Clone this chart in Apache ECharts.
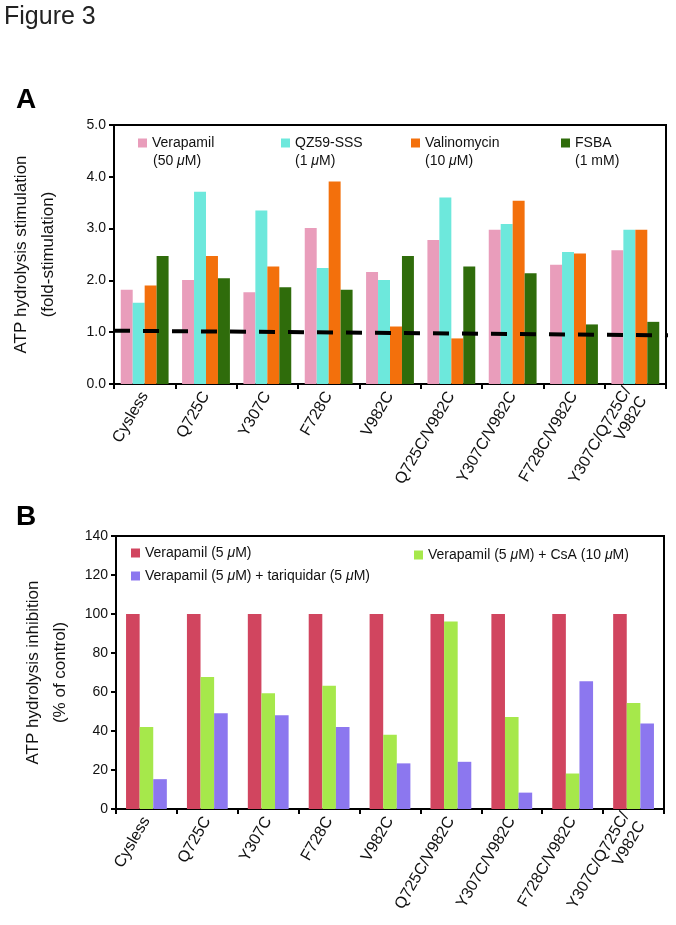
<!DOCTYPE html>
<html>
<head>
<meta charset="utf-8">
<script src="https://cdn.jsdelivr.net/npm/echarts@6/dist/echarts.min.js"></script>
<style>
html,body{margin:0;padding:0;background:#fff;}
#c{width:676px;height:925px;}
</style>
</head>
<body>
<div id="c"></div>
<script>
// ---------- data ----------
const categories = ['Cysless','Q725C','Y307C','F728C','V982C','Q725C/V982C','Y307C/V982C','F728C/V982C','Y307C/Q725C/\nV982C'];

// Panel A (fold-stimulation)
const verapamil50 = [1.82, 2.01, 1.77, 3.01, 2.16, 2.78, 2.98, 2.30, 2.58];
const qz59sss     = [1.57, 3.71, 3.35, 2.24, 2.01, 3.60, 3.09, 2.55, 2.98];
const valinomycin = [1.90, 2.47, 2.27, 3.91, 1.11, 0.88, 3.54, 2.52, 2.98];
const fsba        = [2.47, 2.04, 1.87, 1.82, 2.47, 2.27, 2.14, 1.15, 1.20];
const baselineX = [0, 1.007];
const baselineY = [1.03, 0.94];
const ticksA = [0, 1, 2, 3, 4, 5];

// Panel B (% of control)
const verapamil5 = [100, 100, 100, 100, 100, 100, 100, 100, 100];
const verCsA     = [42.1, 67.7, 59.4, 63.2, 38.1, 96.2, 47.2, 18.2, 54.3];
const verTariq   = [15.3, 49.1, 48.1, 42.1, 23.4, 24.2, 8.4, 65.5, 43.8];
const ticksB = [0, 20, 40, 60, 80, 100, 120, 140];

// ---------- styling ----------
const FONT = '"Liberation Sans", Arial, Helvetica, sans-serif';
const colA = ['#E99DBB', '#6DE8DC', '#F3700C', '#2F6C0B'];
const colB = ['#D1455F', '#A6E84B', '#8C77EF'];
const rich = {
  n: {fontFamily: FONT, fontSize: 14, color: '#111'},
  i: {fontFamily: FONT, fontSize: 14, color: '#111', fontStyle: 'italic'}
};
function muFmt(s){ return s.split('μ').map(p => p ? '{n|' + p + '}' : '').join('{i|μ}'); }

function legendAt(name, left, top){
  return {
    data: [name], left: left, top: top, orient: 'horizontal',
    itemWidth: 9, itemHeight: 9, itemGap: 5, padding: 0,
    icon: 'rect', selectedMode: false,
    formatter: muFmt,
    textStyle: {fontFamily: FONT, fontSize: 14, color: '#111', rich: rich}
  };
}
function label(text, left, top, size, weight){
  return {
    text: muFmt(text), left: left, top: top, padding: 0,
    textStyle: {fontFamily: FONT, fontSize: size || 14, fontWeight: weight || 'normal', color: '#111',
      rich: {n: Object.assign({}, rich.n, {fontSize: size || 14, fontWeight: weight || 'normal'}),
             i: Object.assign({}, rich.i, {fontSize: size || 14})}}
  };
}

const chart = echarts.init(document.getElementById('c'));

const axisCommonX = {
  type: 'category', data: categories,
  axisLine: {lineStyle: {color: '#000', width: 2}},
  axisTick: {show: true, length: 5, lineStyle: {color: '#000', width: 2}},
  axisLabel: {interval: 0, rotate: 60, fontFamily: FONT, fontSize: 16, color: '#111', margin: 9, align: 'right', lineHeight: 18},
  splitLine: {show: false}
};
const axisCommonY = {
  type: 'value',
  axisLine: {show: true, lineStyle: {color: '#000', width: 2}},
  axisTick: {show: true, length: 5, lineStyle: {color: '#000', width: 2}},
  splitLine: {show: false},
  nameLocation: 'middle', nameRotate: 90,
  nameTextStyle: {fontFamily: FONT, fontSize: 17, color: '#111', lineHeight: 27, align: 'center'}
};

const option = {
  backgroundColor: '#fff',
  animation: false,
  title: [
    {text: 'Figure 3', left: 4, top: 5, padding: 0, textStyle: {fontFamily: FONT, fontSize: 25, fontWeight: 'normal', color: '#222'}},
    {text: 'A', left: 16, top: 86, padding: 0, textStyle: {fontFamily: FONT, fontSize: 28, fontWeight: 'bold', color: '#000'}},
    {text: 'B', left: 16, top: 503, padding: 0, textStyle: {fontFamily: FONT, fontSize: 28, fontWeight: 'bold', color: '#000'}},
    label('(50 μM)', 153, 154),
    label('(1 μM)', 295, 154),
    label('(10 μM)', 425, 154),
    label('(1 mM)', 575, 154)
  ],
  legend: [
    legendAt('Verapamil', 138, 136),
    legendAt('QZ59-SSS', 281, 136),
    legendAt('Valinomycin', 411, 136),
    legendAt('FSBA', 561, 136),
    legendAt('Verapamil (5 μM)', 131, 546),
    legendAt('Verapamil (5 μM) + tariquidar (5 μM)', 131, 569),
    legendAt('Verapamil (5 μM) + CsA (10 μM)', 414, 548)
  ],
  grid: [
    {left: 111, right: 10, top: 125, bottom: 541, show: true, borderColor: '#000', borderWidth: 2, containLabel: false},
    {left: 116, right: 12, top: 536, bottom: 116, show: true, borderColor: '#000', borderWidth: 2, containLabel: false}
  ],
  xAxis: [
    Object.assign({}, axisCommonX, {gridIndex: 0}),
    Object.assign({}, axisCommonX, {gridIndex: 1}),
    {type: 'value', gridIndex: 0, min: 0, max: 1, show: false}
  ],
  yAxis: [
    Object.assign({}, axisCommonY, {
      gridIndex: 0, min: ticksA[0], max: ticksA[ticksA.length - 1], interval: 1,
      name: 'ATP hydrolysis stimulation\n(fold-stimulation)', nameGap: 52,
      axisLabel: {fontFamily: FONT, fontSize: 14, color: '#111', margin: 8, formatter: v => v.toFixed(1)}
    }),
    Object.assign({}, axisCommonY, {
      gridIndex: 1, min: ticksB[0], max: ticksB[ticksB.length - 1], interval: 20,
      name: 'ATP hydrolysis inhibition\n(% of control)', nameGap: 42,
      axisLabel: {fontFamily: FONT, fontSize: 14, color: '#111', margin: 8}
    })
  ],
  series: [
    {name: 'Verapamil', type: 'bar', xAxisIndex: 0, yAxisIndex: 0, data: verapamil50, itemStyle: {color: colA[0]}, barGap: '0%', barCategoryGap: '22%'},
    {name: 'QZ59-SSS', type: 'bar', xAxisIndex: 0, yAxisIndex: 0, data: qz59sss, itemStyle: {color: colA[1]}, barGap: '0%', barCategoryGap: '22%'},
    {name: 'Valinomycin', type: 'bar', xAxisIndex: 0, yAxisIndex: 0, data: valinomycin, itemStyle: {color: colA[2]}, barGap: '0%', barCategoryGap: '22%'},
    {name: 'FSBA', type: 'bar', xAxisIndex: 0, yAxisIndex: 0, data: fsba, itemStyle: {color: colA[3]}, barGap: '0%', barCategoryGap: '22%'},
    {name: 'baseline', type: 'line', xAxisIndex: 2, yAxisIndex: 0, symbol: 'none', clip: false, z: 10,
      data: baselineX.map((x, k) => [x, baselineY[k]]),
      lineStyle: {color: '#000', width: 4, type: [16, 13]}},
    {name: 'Verapamil (5 μM)', type: 'bar', xAxisIndex: 1, yAxisIndex: 1, data: verapamil5, itemStyle: {color: colB[0]}, barGap: '0%', barCategoryGap: '33%'},
    {name: 'Verapamil (5 μM) + CsA (10 μM)', type: 'bar', xAxisIndex: 1, yAxisIndex: 1, data: verCsA, itemStyle: {color: colB[1]}, barGap: '0%', barCategoryGap: '33%'},
    {name: 'Verapamil (5 μM) + tariquidar (5 μM)', type: 'bar', xAxisIndex: 1, yAxisIndex: 1, data: verTariq, itemStyle: {color: colB[2]}, barGap: '0%', barCategoryGap: '33%'}
  ]
};
chart.setOption(option);
</script>
</body>
</html>
